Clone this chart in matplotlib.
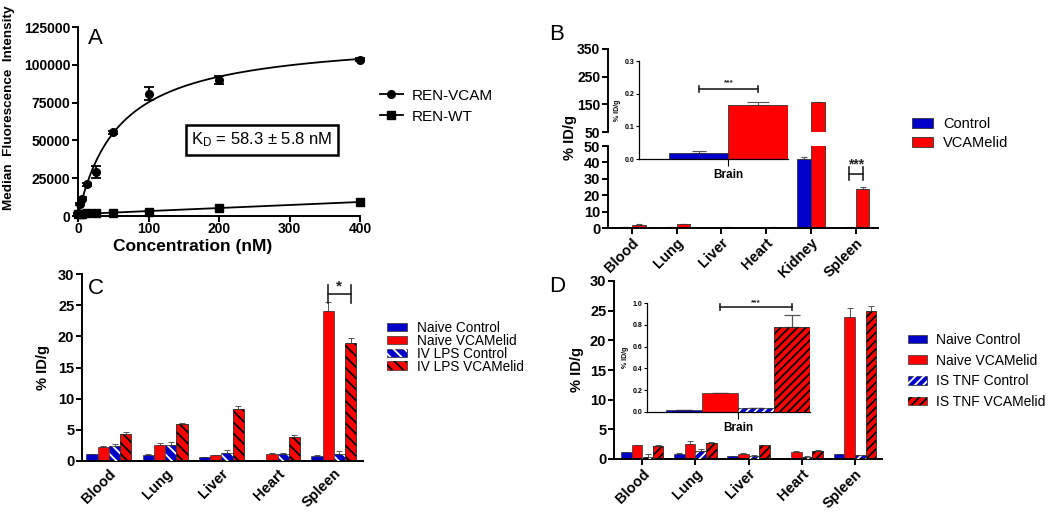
import numpy as np
import matplotlib
matplotlib.use("Agg")
import matplotlib.pyplot as plt
from matplotlib.patches import Patch
from matplotlib.lines import Line2D

plt.rcParams['font.family'] = ['Liberation Sans', 'DejaVu Sans']
plt.rcParams['mathtext.default'] = 'regular'
plt.rcParams['hatch.linewidth'] = 1.3
plt.rcParams['axes.linewidth'] = 1.4

# ---------------- data ----------------
# Panel A
conc_nM = [0, 3.125, 6.25, 12.5, 25, 50, 100, 200, 400]
ren_vcam = [1500, 8000, 11500, 21000, 29000, 55500, 81000, 90000, 103500]
ren_vcam_err = [500, 800, 800, 1000, 4000, 1000, 4500, 2500, 1000]
ren_wt = [1200, 1300, 1500, 1700, 2000, 2300, 2800, 5000, 9500]
ren_wt_err = [300, 300, 300, 300, 300, 300, 300, 400, 500]
KD_nM = 58.3
a_xticks = [0, 100, 200, 300, 400]
a_yticks = [0, 25000, 50000, 75000, 100000, 125000]

# Panel B
b_organs = ['Blood', 'Lung', 'Liver', 'Heart', 'Kidney', 'Spleen']
b_control = [0.5, 0.4, 0.2, 0.2, 42.0, 0.3]
b_control_err = [0.1, 0.1, 0.05, 0.05, 1.5, 0.1]
b_vcamelid = [2.0, 2.4, 0.4, 0.8, 157.0, 24.0]
b_vcamelid_err = [0.2, 0.2, 0.05, 0.1, 2.0, 1.0]
b_brain = [0.018, 0.165]
b_brain_err = [0.008, 0.008]
b_lower_ticks = [0, 10, 20, 30, 40, 50]
b_upper_ticks = [50, 150, 250, 350]
b_inset_ticks = [0.0, 0.1, 0.2, 0.3]

# Panel C
cd_organs = ['Blood', 'Lung', 'Liver', 'Heart', 'Spleen']
c_naive_ctrl = [1.1, 1.0, 0.6, 0.15, 0.8]
c_naive_ctrl_err = [0.1, 0.1, 0.05, 0.05, 0.1]
c_naive_vcam = [2.3, 2.6, 0.9, 1.2, 24.1]
c_naive_vcam_err = [0.1, 0.3, 0.1, 0.1, 1.4]
c_lps_ctrl = [2.4, 2.5, 1.3, 1.1, 1.2]
c_lps_ctrl_err = [0.4, 0.6, 0.4, 0.2, 0.4]
c_lps_vcam = [4.4, 5.9, 8.3, 3.9, 18.9]
c_lps_vcam_err = [0.3, 0.2, 0.5, 0.2, 0.8]

# Panel D
d_naive_ctrl = [1.1, 0.9, 0.5, 0.15, 0.8]
d_naive_ctrl_err = [0.1, 0.1, 0.05, 0.05, 0.1]
d_naive_vcam = [2.3, 2.6, 0.9, 1.2, 24.0]
d_naive_vcam_err = [0.1, 0.4, 0.1, 0.1, 1.5]
d_tnf_ctrl = [0.4, 1.4, 0.5, 0.3, 0.6]
d_tnf_ctrl_err = [0.4, 0.3, 0.1, 0.2, 0.1]
d_tnf_vcam = [2.2, 2.7, 2.3, 1.4, 24.9]
d_tnf_vcam_err = [0.1, 0.2, 0.1, 0.1, 0.9]
d_brain = [0.015, 0.17, 0.035, 0.78]
d_brain_err = [0.005, 0.005, 0.005, 0.11]
d_inset_ticks = [0.0, 0.2, 0.4, 0.6, 0.8, 1.0]
cd_yticks = [0, 5, 10, 15, 20, 25, 30]

# ---------------- style ----------------
BLUE = '#0000C8'
RED = '#FF0000'
EDGE = '#333333'
ECOL = '#555555'

W, H = 1050, 516
fig = plt.figure(figsize=(10.5, 5.16), dpi=100)


def axpx(l, r, t, b):
    return fig.add_axes([l / W, 1 - b / H, (r - l) / W, (b - t) / H])


def style(ax, fs=10, tl=4, tw=1.4):
    for s in ['top', 'right']:
        ax.spines[s].set_visible(False)
    ax.tick_params(direction='out', length=tl, width=tw, labelsize=fs, pad=1.5)
    for lab in ax.get_xticklabels() + ax.get_yticklabels():
        lab.set_fontweight('bold')


def draw_bar(ax, x, h, w, color, hatch=None, hcolor=None, err=None, lw=0.6, cap=2.5, elw=0.8):
    ax.bar(x, h, w, color=color, edgecolor=EDGE, linewidth=lw, zorder=2)
    if hatch:
        ax.bar(x, h, w, facecolor='none', edgecolor=hcolor, hatch=hatch, linewidth=0, zorder=3)
        ax.bar(x, h, w, facecolor='none', edgecolor=EDGE, linewidth=lw, zorder=4)
    if err is not None:
        ax.errorbar(x, h, yerr=[[0], [err]], fmt='none', ecolor=ECOL, elinewidth=elw,
                    capsize=cap, capthick=elw, zorder=1)


def bracket(ax, x0, x1, y, dy, text, fs, tdy):
    ax.plot([x0, x1], [y, y], color='#222222', lw=1.2, zorder=5, clip_on=False)
    ax.plot([x0, x0], [y - dy, y + dy], color='#222222', lw=1.2, zorder=5, clip_on=False)
    ax.plot([x1, x1], [y - dy, y + dy], color='#222222', lw=1.2, zorder=5, clip_on=False)
    ax.text((x0 + x1) / 2, y + tdy, text, ha='center', va='bottom', fontsize=fs,
            fontweight='bold', color='#222222')


# ---------------- Panel A ----------------
axA = axpx(78, 360, 27, 216)
x = np.array(conc_nM, dtype=float)
yv = np.array(ren_vcam, dtype=float)
yw = np.array(ren_wt, dtype=float)
f = x / (KD_nM + x)
bmax = np.sum(yv * f) / np.sum(f * f)
xs = np.linspace(0, 400, 400)
axA.plot(xs, bmax * xs / (KD_nM + xs), color='black', lw=1.3)
slope, icpt = np.polyfit(x, yw, 1)
axA.plot(xs, slope * xs + icpt, color='black', lw=1.3)
axA.errorbar(x, yv, yerr=ren_vcam_err, fmt='o', color='black', ms=5.5, capsize=3.5,
             elinewidth=1.3, capthick=1.3, clip_on=False, zorder=4)
axA.errorbar(x, yw, yerr=ren_wt_err, fmt='s', color='black', ms=5.5, capsize=3,
             elinewidth=1.3, capthick=1.3, clip_on=False, zorder=4)
axA.set_xlim(0, 400)
axA.set_ylim(0, 125000)
axA.set_xticks(a_xticks)
axA.set_yticks(a_yticks)
style(axA, fs=10)
axA.tick_params(axis='x', pad=0.5)
fig.text(193 / W, 1 - 246 / H, 'Concentration (nM)', ha='center', va='center',
         fontsize=12.5, fontweight='bold')
fig.text(9 / W, 1 - 108 / H, 'Median  Fluorescence  Intensity', ha='center', va='center',
         rotation=90, fontsize=9.7, fontweight='bold')
fig.text(88 / W, 1 - 38 / H, 'A', ha='left', va='center', fontsize=16)
fig.text(262 / W, 1 - 140 / H, 'K$_{D}$ = 58.3 ± 5.8 nM', ha='center', va='center',
         fontsize=12,
         bbox=dict(boxstyle='square,pad=0.35', fc='white', ec='black', lw=1.8))
hA = [Line2D([], [], color='black', marker='o', ms=5.5, lw=1.3),
      Line2D([], [], color='black', marker='s', ms=5.5, lw=1.3)]
fig.legend(hA, ['REN-VCAM', 'REN-WT'], loc='upper left',
           bbox_to_anchor=(372 / W, 1 - 81 / H), frameon=False, fontsize=11,
           handlelength=1.5, labelspacing=0.45, handletextpad=0.6, borderpad=0)

# ---------------- Panel B ----------------
nb = np.arange(len(b_organs))
bw = 0.31
axBl = axpx(608, 878, 146, 228)
axBu = axpx(608, 878, 49, 132)
for ax, lo, hi, ticks in [(axBl, 0, 50, b_lower_ticks), (axBu, 50, 350, b_upper_ticks)]:
    for i in nb:
        draw_bar(ax, i - bw / 2, b_control[i], bw, BLUE, err=b_control_err[i])
        draw_bar(ax, i + bw / 2, b_vcamelid[i], bw, RED, err=b_vcamelid_err[i])
    ax.set_xlim(-0.53, 5.5)
    ax.set_ylim(lo, hi)
    ax.set_yticks(ticks)
axBu.spines['bottom'].set_visible(False)
axBu.set_xticks([])
axBl.set_xticks(nb)
axBl.set_xticklabels(b_organs, rotation=45, ha='right', rotation_mode='anchor')
style(axBl, fs=10.5)
style(axBu, fs=10)
axBu.spines['bottom'].set_visible(False)
bracket(axBl, 5 - bw / 2, 5 + bw / 2, 33, 4, '***', 10, 1.2)
fig.text(570 / W, 1 - 138 / H, '% ID/g', rotation=90, ha='center', va='center',
         fontsize=10.5, fontweight='bold')
fig.text(557 / W, 1 - 35 / H, 'B', ha='center', va='center', fontsize=16)

# inset B
axBi = axpx(639, 788, 61, 159)
axBi.patch.set_alpha(0)
draw_bar(axBi, -0.5, b_brain[0], 1.0, BLUE, err=b_brain_err[0], cap=5, elw=0.8)
draw_bar(axBi, 0.5, b_brain[1], 1.0, RED, err=b_brain_err[1], cap=8, elw=0.8)
axBi.set_xlim(-1.5, 1.0)
axBi.set_ylim(0, 0.3)
axBi.set_yticks(b_inset_ticks)
axBi.set_yticklabels(['0.0', '0.1', '0.2', '0.3'])
axBi.set_xticks([0])
axBi.set_xticklabels(['Brain'])
style(axBi, fs=5, tl=2, tw=0.8)
axBi.tick_params(axis='x', labelsize=8.5, length=5, width=0.8, pad=2)
for s in ['left', 'bottom']:
    axBi.spines[s].set_linewidth(0.9)
axBi.set_ylabel('% ID/g', fontsize=5, fontweight='bold', labelpad=2)
bracket(axBi, -0.5, 0.5, 0.215, 0.01, '***', 6, 0.008)

hB = [Patch(facecolor=BLUE, edgecolor=EDGE, lw=0.6), Patch(facecolor=RED, edgecolor=EDGE, lw=0.6)]
fig.legend(hB, ['Control', 'VCAMelid'], loc='upper left', bbox_to_anchor=(905 / W, 1 - 110 / H),
           frameon=False, fontsize=10.5, handlelength=1.4, handleheight=0.65,
           labelspacing=0.35, handletextpad=0.7, borderpad=0)


# ---------------- Panels C & D ----------------
def grouped(ax, series, hatches, offs, w):
    for (vals, errs, col, hc), hatch, off in zip(series, hatches, offs):
        for i in range(len(vals)):
            draw_bar(ax, i + off, vals[i], w, col, hatch=hatch, hcolor=hc, err=errs[i],
                     lw=0.5, cap=2.2, elw=0.7)


offs = [-0.3, -0.1, 0.1, 0.3]
axC = axpx(82, 363, 274, 461)
serC = [(c_naive_ctrl, c_naive_ctrl_err, BLUE, None),
        (c_naive_vcam, c_naive_vcam_err, RED, None),
        (c_lps_ctrl, c_lps_ctrl_err, BLUE, 'white'),
        (c_lps_vcam, c_lps_vcam_err, RED, 'black')]
grouped(axC, serC, [None, None, '\\\\\\', '\\\\\\'], offs, 0.2)
axC.set_xlim(-0.48, 4.52)
axC.set_ylim(0, 30)
axC.set_yticks(cd_yticks)
axC.set_xticks(np.arange(5))
axC.set_xticklabels(cd_organs, rotation=45, ha='right', rotation_mode='anchor')
style(axC, fs=10.5)
axC.tick_params(axis='x', length=0, pad=4)
axC.set_ylabel('% ID/g', fontsize=10.5, fontweight='bold', labelpad=6)
bracket(axC, 3.9, 4.3, 26.8, 1.4, '*', 11, 0.0)
fig.text(88 / W, 1 - 288 / H, 'C', ha='left', va='center', fontsize=16)

hC = [Patch(facecolor=BLUE, edgecolor=EDGE, lw=0.5),
      Patch(facecolor=RED, edgecolor=EDGE, lw=0.5),
      (Patch(facecolor=BLUE, edgecolor=EDGE, lw=0.5),
       Patch(facecolor='none', edgecolor='white', hatch='\\\\\\', lw=0)),
      (Patch(facecolor=RED, edgecolor=EDGE, lw=0.5),
       Patch(facecolor='none', edgecolor='black', hatch='\\\\\\', lw=0))]
fig.legend(hC, ['Naive Control', 'Naive VCAMelid', 'IV LPS Control', 'IV LPS VCAMelid'],
           loc='upper left', bbox_to_anchor=(380 / W, 1 - 314 / H), frameon=False,
           fontsize=9.8, handlelength=1.45, handleheight=0.6, labelspacing=-0.08,
           handletextpad=0.75, borderpad=0)

axD = axpx(614, 882, 281, 459)
serD = [(d_naive_ctrl, d_naive_ctrl_err, BLUE, None),
        (d_naive_vcam, d_naive_vcam_err, RED, None),
        (d_tnf_ctrl, d_tnf_ctrl_err, BLUE, 'white'),
        (d_tnf_vcam, d_tnf_vcam_err, RED, 'black')]
grouped(axD, serD, [None, None, '////', '////'], offs, 0.2)
axD.set_xlim(-0.53, 4.51)
axD.set_ylim(0, 30)
axD.set_yticks(cd_yticks)
axD.set_xticks(np.arange(5))
axD.set_xticklabels(cd_organs, rotation=45, ha='right', rotation_mode='anchor')
style(axD, fs=10.5)
axD.set_ylabel('% ID/g', fontsize=10.5, fontweight='bold', labelpad=4)
fig.text(557 / W, 1 - 287 / H, 'D', ha='center', va='center', fontsize=16)

axDi = axpx(647, 810, 303, 412)
axDi.patch.set_alpha(0)
d_cols = [(BLUE, None, None), (RED, None, None), (BLUE, '////', 'white'), (RED, '////', 'black')]
for i, (col, hatch, hc) in enumerate(d_cols):
    draw_bar(axDi, i - 1.5, d_brain[i], 1.0, col, hatch=hatch, hcolor=hc, err=d_brain_err[i],
             lw=0.5, cap=6, elw=0.9)
axDi.set_xlim(-2.53, 2.0)
axDi.set_ylim(0, 1.0)
axDi.set_yticks(d_inset_ticks)
axDi.set_yticklabels(['0.0', '0.2', '0.4', '0.6', '0.8', '1.0'])
axDi.set_xticks([0])
axDi.set_xticklabels(['Brain'])
style(axDi, fs=5, tl=2, tw=0.8)
axDi.tick_params(axis='x', labelsize=8.5, length=5, width=0.8, pad=2)
for s in ['left', 'bottom']:
    axDi.spines[s].set_linewidth(0.9)
axDi.set_ylabel('% ID/g', fontsize=5, fontweight='bold', labelpad=2)
bracket(axDi, -0.5, 1.5, 0.963, 0.03, '***', 6, 0.01)

hD = [Patch(facecolor=BLUE, edgecolor=EDGE, lw=0.5),
      Patch(facecolor=RED, edgecolor=EDGE, lw=0.5),
      (Patch(facecolor=BLUE, edgecolor=EDGE, lw=0.5),
       Patch(facecolor='none', edgecolor='white', hatch='////', lw=0)),
      (Patch(facecolor=RED, edgecolor=EDGE, lw=0.5),
       Patch(facecolor='none', edgecolor='black', hatch='////', lw=0))]
fig.legend(hD, ['Naive Control', 'Naive VCAMelid', 'IS TNF Control', 'IS TNF VCAMelid'],
           loc='upper left', bbox_to_anchor=(901 / W, 1 - 326 / H), frameon=False,
           fontsize=10, handlelength=1.4, handleheight=0.6, labelspacing=0.48,
           handletextpad=0.65, borderpad=0)

fig.savefig('out.png', dpi=100)
